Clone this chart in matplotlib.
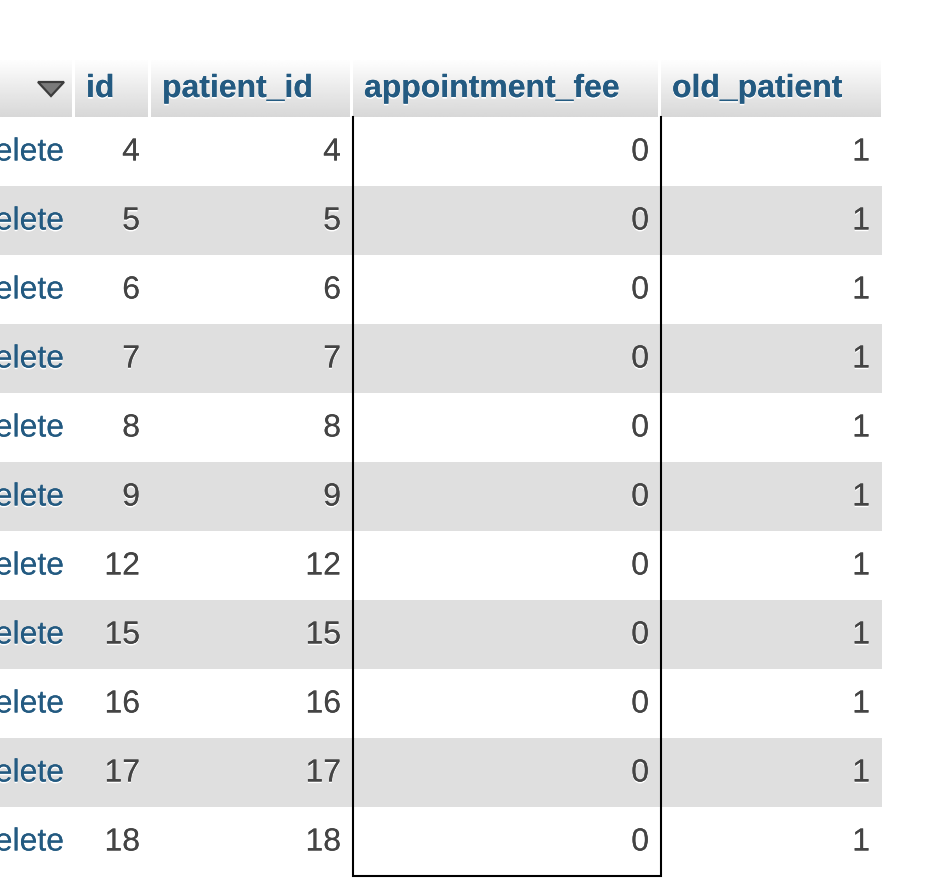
import numpy as np
import matplotlib
matplotlib.use("Agg")
import matplotlib.pyplot as plt
import matplotlib.patheffects as pe
from matplotlib.patches import Rectangle, Polygon

# table contents
columns = ["id", "patient_id", "appointment_fee", "old_patient"]
ids = [4, 5, 6, 7, 8, 9, 12, 15, 16, 17, 18]
patient_ids = [4, 5, 6, 7, 8, 9, 12, 15, 16, 17, 18]
appointment_fees = [0, 0, 0, 0, 0, 0, 0, 0, 0, 0, 0]
old_patients = [1, 1, 1, 1, 1, 1, 1, 1, 1, 1, 1]
action_label = "elete"

W, H = 936, 896
fig = plt.figure(figsize=(W / 100, H / 100), dpi=100)
ax = fig.add_axes([0, 0, 1, 1])
ax.set_xlim(0, W)
ax.set_ylim(H, 0)
ax.axis("off")

plt.rcParams["font.family"] = ["Liberation Sans", "DejaVu Sans"]

BLUE = "#235a81"
TEXT = "#444444"
STRIPE = "#dfdfdf"
shadow = [pe.withSimplePatchShadow(offset=(0, -1.2), shadow_rgbFace="white", alpha=1.0), pe.Normal()]

# header cells: (left, right)
head_top, head_bot = 60, 117
cells = [(-5, 72), (75, 148), (151, 350), (353, 658), (661, 881)]
grad = np.linspace(0.995, 0.845, 64).reshape(-1, 1)
for x0, x1 in cells:
    ax.imshow(grad, cmap="gray", vmin=0, vmax=1, extent=(x0, x1, head_bot, head_top),
              aspect="auto", zorder=1, interpolation="bilinear")
ax.set_xlim(0, W)
ax.set_ylim(H, 0)

# sort triangle in first header cell
ax.add_patch(Polygon([[38, 82], [64, 82], [51, 96]], closed=True,
                     facecolor="#7a7a7a", edgecolor="#3c3c3c", lw=1.6, zorder=2))

head_x = [86, 162, 364, 672]
for name, x in zip(columns, head_x):
    ax.text(x, 89, name, ha="left", va="center", fontsize=23, fontweight="bold",
            color=BLUE, zorder=3, path_effects=shadow)

# rows
row_top, row_h = 117, 69
right_x = [140, 341, 649, 870]
for i, row in enumerate(zip(ids, patient_ids, appointment_fees, old_patients)):
    y0 = row_top + i * row_h
    if i % 2 == 1:
        ax.add_patch(Rectangle((0, y0), 882, row_h, facecolor=STRIPE, edgecolor="none", zorder=1))
    yc = y0 + row_h / 2 + 1
    ax.text(64, yc, action_label, ha="right", va="center", fontsize=23,
            color=BLUE, zorder=3, path_effects=shadow)
    for val, x in zip(row, right_x):
        ax.text(x, yc, str(val), ha="right", va="center", fontsize=23,
                color=TEXT, zorder=3, path_effects=shadow)

# highlighted column frame
bottom = row_top + len(ids) * row_h
ax.plot([353, 353, 661, 661], [row_top, bottom, bottom, row_top], color="black",
        lw=1.5, zorder=4, solid_joinstyle="miter")

fig.savefig("out.png", dpi=100)
